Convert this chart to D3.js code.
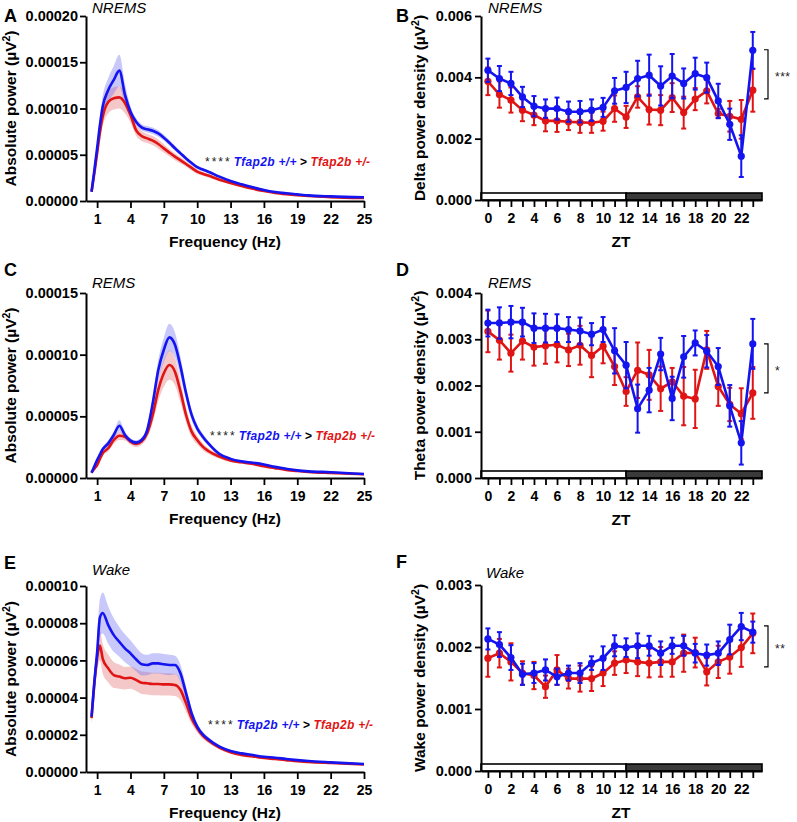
<!DOCTYPE html>
<html><head><meta charset="utf-8">
<script src="https://cdn.jsdelivr.net/npm/d3@7"></script>
<style>
body{margin:0;background:#fff}
text{font-family:"Liberation Sans",Arial,Helvetica,sans-serif}
</style>
</head><body>
<svg id="chart" width="797" height="822"></svg>
<script>
// ---------------- DATA ----------------
// Spectra: frequency (Hz) and absolute power in units of 1e-5 µV²
const freqHz = [0.5,0.75,1,1.25,1.5,2,2.5,3,3.5,4,4.5,5,5.5,6,6.5,7,7.5,8,8.5,9,9.5,10,10.5,11,12,13,14,15,16,17,18,19,20,22,25];

const nremsWT     = [1.0,3.3,5.7,8.2,10.2,12.0,13.1,14.1,11.5,9.65,8.57,7.96,7.75,7.6,7.3,6.85,6.3,5.7,5.15,4.6,4.1,3.65,3.4,3.17,2.63,2.16,1.8,1.48,1.19,0.97,0.83,0.72,0.61,0.5,0.4];
const nremsWTsem  = [0.1,0.3,0.6,0.9,1.1,1.3,1.5,1.7,1.2,0.6,0.4,0.35,0.35,0.35,0.35,0.3,0.3,0.28,0.25,0.22,0.2,0.18,0.16,0.15,0.13,0.11,0.1,0.08,0.07,0.06,0.05,0.05,0.04,0.04,0.03];
const nremsHet    = [1.0,3.0,5.15,7.4,9.1,10.7,11.1,11.2,10.6,9.3,7.67,7.03,6.77,6.52,6.16,5.69,5.23,4.79,4.4,4.0,3.58,3.17,2.95,2.75,2.3,1.95,1.62,1.32,1.08,0.88,0.74,0.63,0.54,0.42,0.32];
const nremsHetsem = [0.1,0.3,0.6,0.9,1.0,1.2,1.2,1.2,1.1,0.8,0.6,0.55,0.5,0.5,0.5,0.45,0.4,0.38,0.35,0.3,0.28,0.25,0.22,0.2,0.17,0.15,0.13,0.11,0.09,0.08,0.07,0.06,0.05,0.05,0.04];

const remsWT      = [0.43,0.95,1.46,1.9,2.33,2.81,3.49,4.24,3.49,3.03,2.87,3.08,3.89,6.06,8.76,10.4,11.4,10.8,9.03,6.87,5.11,4.03,3.35,2.81,1.95,1.55,1.35,1.24,1.1,0.9,0.75,0.62,0.54,0.47,0.32];
const remsWTsem   = [0.05,0.1,0.15,0.2,0.2,0.25,0.3,0.45,0.3,0.2,0.2,0.2,0.3,0.5,0.8,1.0,1.1,1.0,0.8,0.55,0.4,0.3,0.25,0.2,0.15,0.12,0.1,0.08,0.07,0.06,0.05,0.04,0.04,0.03,0.03];
const remsHet     = [0.43,0.75,1.05,1.55,2.0,2.41,3.08,3.43,3.35,2.95,2.76,2.95,3.62,5.11,7.14,8.49,9.16,8.62,7.0,5.11,3.76,3.08,2.54,2.19,1.73,1.41,1.27,1.14,0.95,0.8,0.66,0.57,0.5,0.41,0.3];
const remsHetsem  = [0.05,0.1,0.15,0.2,0.2,0.25,0.3,0.35,0.3,0.25,0.25,0.25,0.35,0.6,0.9,1.1,1.2,1.1,0.9,0.6,0.45,0.35,0.28,0.22,0.17,0.13,0.11,0.09,0.08,0.07,0.06,0.05,0.05,0.04,0.03];

const wakeWT      = [2.97,4.85,6.4,8.3,8.55,7.9,7.36,7.0,6.65,6.38,6.06,5.79,5.75,5.84,5.84,5.79,5.75,5.75,5.3,4.23,3.15,2.44,2.02,1.76,1.36,1.13,1.0,0.91,0.82,0.77,0.7,0.64,0.59,0.52,0.43];
const wakeWTsem   = [0.3,0.6,0.8,1.0,1.1,1.0,0.9,0.8,0.75,0.7,0.65,0.6,0.55,0.55,0.55,0.55,0.55,0.5,0.45,0.35,0.25,0.18,0.14,0.12,0.09,0.07,0.06,0.05,0.05,0.04,0.04,0.04,0.03,0.03,0.03];
const wakeHet     = [2.9,4.73,6.13,6.8,6.1,5.57,5.21,5.13,5.04,5.07,4.95,4.8,4.77,4.73,4.73,4.71,4.71,4.68,4.41,3.69,2.88,2.35,1.95,1.69,1.31,1.06,0.91,0.84,0.75,0.7,0.64,0.58,0.54,0.48,0.4];
const wakeHetsem  = [0.3,0.5,0.7,0.8,0.8,0.75,0.7,0.65,0.6,0.6,0.6,0.6,0.6,0.6,0.6,0.6,0.6,0.6,0.55,0.45,0.3,0.22,0.16,0.13,0.1,0.08,0.07,0.06,0.05,0.05,0.04,0.04,0.04,0.03,0.03];

// ZT time course: power density in units of 1e-3 µV²
const ztHours = [0,1,2,3,4,5,6,7,8,9,10,11,12,13,14,15,16,17,18,19,20,21,22,23];

const deltaWT     = [4.23,3.96,3.80,3.36,3.06,2.98,2.98,2.88,2.88,2.93,3.02,3.56,3.67,3.96,4.07,3.72,4.04,3.80,4.12,3.99,3.23,2.47,1.43,4.88];
const deltaWTsem  = [0.38,0.41,0.38,0.33,0.33,0.30,0.36,0.33,0.35,0.35,0.31,0.42,0.51,0.58,0.67,0.64,0.72,0.49,0.52,0.49,0.56,0.51,0.68,0.60];
const deltaHet    = [3.87,3.44,3.26,2.93,2.77,2.58,2.58,2.55,2.53,2.52,2.57,2.98,2.71,3.36,2.95,2.93,3.34,2.85,3.29,3.56,2.82,2.73,2.63,3.58];
const deltaHetsem = [0.45,0.43,0.41,0.36,0.33,0.34,0.36,0.27,0.34,0.33,0.31,0.43,0.36,0.35,0.49,0.49,0.47,0.52,0.36,0.41,0.15,0.50,0.63,0.70];

const thetaWT     = [3.35,3.35,3.37,3.37,3.24,3.24,3.24,3.21,3.18,3.11,3.21,2.75,2.44,1.50,1.90,2.68,1.72,2.62,2.92,2.74,2.41,1.56,0.76,2.90];
const thetaWTsem  = [0.29,0.34,0.35,0.31,0.32,0.31,0.30,0.27,0.29,0.24,0.27,0.49,0.50,0.52,0.48,0.35,0.47,0.45,0.27,0.35,0.40,0.45,0.47,0.54];
const thetaHet    = [3.17,2.98,2.70,2.96,2.83,2.86,2.88,2.77,2.87,2.65,2.85,2.41,1.87,2.33,2.23,1.93,2.08,1.77,1.71,2.77,1.98,1.59,1.39,1.84];
const thetaHetsem = [0.45,0.42,0.40,0.40,0.40,0.39,0.38,0.35,0.42,0.47,0.37,0.40,0.31,0.60,0.54,0.48,0.30,0.63,0.63,0.41,0.42,0.36,0.55,0.56];

const wakePdWT     = [2.13,2.04,1.83,1.56,1.58,1.63,1.52,1.58,1.58,1.74,1.82,2.02,1.99,2.02,2.02,1.90,2.02,2.02,1.90,1.87,1.90,2.12,2.33,2.24];
const wakePdWTsem  = [0.17,0.20,0.20,0.17,0.16,0.17,0.13,0.12,0.16,0.11,0.19,0.17,0.15,0.20,0.16,0.19,0.13,0.16,0.15,0.17,0.19,0.24,0.22,0.17];
const wakePdHet    = [1.82,1.90,1.76,1.58,1.54,1.36,1.63,1.49,1.49,1.49,1.58,1.74,1.79,1.76,1.74,1.76,1.76,1.90,1.91,1.60,1.76,1.84,1.99,2.22];
const wakePdHetsem = [0.30,0.23,0.30,0.19,0.22,0.18,0.24,0.16,0.21,0.20,0.21,0.19,0.21,0.23,0.23,0.24,0.24,0.30,0.24,0.22,0.26,0.27,0.31,0.32];

// Tick values
const specXTicks = [1,4,7,10,13,16,19,22,25];
const yTicksA = [0,0.00005,0.0001,0.00015,0.0002];
const yTicksC = [0,0.00005,0.0001,0.00015];
const yTicksE = [0,0.00002,0.00004,0.00006,0.00008,0.0001];
const yTicksB = [0,0.002,0.004,0.006];
const yTicksD = [0,0.001,0.002,0.003,0.004];
const yTicksF = [0,0.001,0.002,0.003];
// significance bracket ranges (µV²)
const bracketB = [0.0033,0.0049];
const bracketD = [0.00184,0.0029];
const bracketF = [0.00168,0.00234];

// ---------------- DRAWING ----------------
const BLUE = "#1414f0", RED = "#e01414";
const svg = d3.select("#chart");
svg.append("rect").attr("width",797).attr("height",822).attr("fill","#fff");

function styleAxis(g){
  g.select(".domain").attr("stroke","#000").attr("stroke-width",2);
  g.selectAll(".tick line").attr("stroke","#000").attr("stroke-width",1.8);
  g.selectAll(".tick text").attr("font-size",14.5).attr("font-weight","bold")
    .attr("font-family",'"Liberation Sans",Arial,sans-serif').attr("fill","#000");
}

function yTitle(x, yc, label){
  const t = svg.append("text").attr("transform",`translate(${x},${yc}) rotate(-90)`)
    .attr("text-anchor","middle").attr("font-size",15.5).attr("font-weight","bold");
  t.append("tspan").text(label + " (µV");
  t.append("tspan").attr("font-size",10.5).attr("dy",-6).text("2");
  t.append("tspan").attr("dy",6).text(")");
}

function spectrumPanel(cfg){
  const x = d3.scaleLinear().domain([0,25]).range([86,364]);
  const y = d3.scaleLinear().domain([0,cfg.max]).range([cfg.bottom,cfg.top]);
  const mk = (m,s)=>freqHz.map((f,i)=>({f, m:m[i]*1e-5, s:s[i]*1e-5}));
  const wt = mk(cfg.wt,cfg.wtSem), het = mk(cfg.het,cfg.hetSem);
  const area = d3.area().curve(d3.curveMonotoneX).x(d=>x(d.f)).y0(d=>y(d.m-d.s)).y1(d=>y(d.m+d.s));
  const line = d3.line().curve(d3.curveMonotoneX).x(d=>x(d.f)).y(d=>y(d.m));
  svg.append("path").datum(het).attr("d",area).attr("fill","rgba(225,110,110,0.38)");
  svg.append("path").datum(wt).attr("d",area).attr("fill","rgba(110,110,245,0.38)");
  svg.append("path").datum(het).attr("d",line).attr("fill","none").attr("stroke",RED).attr("stroke-width",2.6);
  svg.append("path").datum(wt).attr("d",line).attr("fill","none").attr("stroke",BLUE).attr("stroke-width",2.6);

  const gx = svg.append("g").attr("transform",`translate(0,${cfg.bottom})`)
    .call(d3.axisBottom(x).tickValues(specXTicks).tickSize(7).tickPadding(6).tickSizeOuter(0));
  styleAxis(gx); gx.selectAll(".tick text").attr("font-size",14);
  const gy = svg.append("g").attr("transform","translate(86,0)")
    .call(d3.axisLeft(y).tickValues(cfg.yTicks).tickFormat(d3.format(".5f")).tickSize(6).tickPadding(2).tickSizeOuter(0));
  styleAxis(gy);

  svg.append("text").attr("x",225).attr("y",cfg.bottom+46).attr("text-anchor","middle")
    .attr("font-size",15.5).attr("font-weight","bold").text("Frequency (Hz)");
  yTitle(16,(cfg.top+cfg.bottom)/2,"Absolute power");
  svg.append("text").attr("x",92).attr("y",cfg.stateY).attr("font-size",15).attr("font-style","italic").text(cfg.state);
  svg.append("text").attr("x",4).attr("y",cfg.letterY).attr("font-size",18).attr("font-weight","bold").text(cfg.letter);

  const a = svg.append("text").attr("x",cfg.annX).attr("y",cfg.annY).attr("font-size",12);
  a.append("tspan").attr("letter-spacing",2).attr("fill","#222").text("****");
  a.append("tspan").attr("dx",2).attr("font-weight","bold").attr("font-style","italic").attr("fill",BLUE).attr("letter-spacing",0.3).text("Tfap2b +/+");
  a.append("tspan").attr("font-weight","bold").attr("fill","#000").text(" > ");
  a.append("tspan").attr("font-weight","bold").attr("font-style","italic").attr("fill",RED).attr("letter-spacing",0.3).text("Tfap2b +/-");
}

function ztPanel(cfg){
  const x = d3.scaleLinear().domain([-0.6,23.8]).range([481,762]);
  const y = d3.scaleLinear().domain([0,cfg.max]).range([cfg.bottom,cfg.top]);
  const mk = (m,s)=>ztHours.map((h,i)=>({h, m:m[i]*1e-3, s:s[i]*1e-3}));
  const series = [{d:mk(cfg.het,cfg.hetSem),c:RED},{d:mk(cfg.wt,cfg.wtSem),c:BLUE}];

  // light/dark bar
  const by0 = y(0)-7, bh = 7;
  svg.append("rect").attr("x",x(-0.6)).attr("y",by0).attr("width",x(12)-x(-0.6)).attr("height",bh)
    .attr("fill","#fff").attr("stroke","#000").attr("stroke-width",1.6);
  svg.append("rect").attr("x",x(12)).attr("y",by0).attr("width",x(23.8)-x(12)).attr("height",bh)
    .attr("fill","#3a3a3a").attr("stroke","#000").attr("stroke-width",1.6);

  const line = d3.line().x(d=>x(d.h)).y(d=>y(d.m));
  series.forEach(s=>{
    const g = svg.append("g");
    g.selectAll("line.eb").data(s.d).join("line").attr("x1",d=>x(d.h)).attr("x2",d=>x(d.h))
      .attr("y1",d=>y(d.m-d.s)).attr("y2",d=>y(d.m+d.s)).attr("stroke",s.c).attr("stroke-width",2);
    ["-","+"].forEach(sign=>{
      g.selectAll(null).data(s.d).join("line").attr("x1",d=>x(d.h)-2.5).attr("x2",d=>x(d.h)+2.5)
        .attr("y1",d=>y(sign==="-"?d.m-d.s:d.m+d.s)).attr("y2",d=>y(sign==="-"?d.m-d.s:d.m+d.s))
        .attr("stroke",s.c).attr("stroke-width",2);
    });
    g.append("path").datum(s.d).attr("d",line).attr("fill","none").attr("stroke",s.c).attr("stroke-width",2.6);
    g.selectAll("circle").data(s.d).join("circle").attr("cx",d=>x(d.h)).attr("cy",d=>y(d.m)).attr("r",3.6).attr("fill",s.c);
  });

  const gx = svg.append("g").attr("transform",`translate(0,${cfg.bottom})`)
    .call(d3.axisBottom(x).tickValues(ztHours).tickFormat(d=>d%2===0?d:"").tickSize(7).tickPadding(6).tickSizeOuter(0));
  styleAxis(gx); gx.selectAll(".tick text").attr("font-size",14);
  const gy = svg.append("g").attr("transform","translate(481,0)")
    .call(d3.axisLeft(y).tickValues(cfg.yTicks).tickFormat(d3.format(".3f")).tickSize(6).tickPadding(3).tickSizeOuter(0));
  styleAxis(gy);

  svg.append("text").attr("x",621).attr("y",cfg.bottom+47).attr("text-anchor","middle")
    .attr("font-size",15.5).attr("font-weight","bold").text("ZT");
  yTitle(425,(cfg.top+cfg.bottom)/2,cfg.title);
  svg.append("text").attr("x",cfg.stateX).attr("y",cfg.stateY).attr("font-size",15).attr("font-style","italic").text(cfg.state);
  svg.append("text").attr("x",396).attr("y",cfg.letterY).attr("font-size",18).attr("font-weight","bold").text(cfg.letter);

  // significance bracket
  const y1 = y(cfg.bracket[1]), y2 = y(cfg.bracket[0]);
  svg.append("path").attr("d",`M764,${y1}H768V${y2}H764`).attr("fill","none").attr("stroke","#000").attr("stroke-width",1.2);
  svg.append("text").attr("x",775).attr("y",(y1+y2)/2+7).attr("font-size",12).attr("letter-spacing",0.5).attr("fill","#222").text(cfg.stars);
}

spectrumPanel({letter:"A",letterY:22,state:"NREMS",stateY:13,top:16,bottom:201,max:0.0002,yTicks:yTicksA,
  wt:nremsWT,wtSem:nremsWTsem,het:nremsHet,hetSem:nremsHetsem,annX:205,annY:166});
spectrumPanel({letter:"C",letterY:276,state:"REMS",stateY:288,top:293,bottom:478,max:0.00015,yTicks:yTicksC,
  wt:remsWT,wtSem:remsWTsem,het:remsHet,hetSem:remsHetsem,annX:210,annY:440});
spectrumPanel({letter:"E",letterY:569,state:"Wake",stateY:575,top:586,bottom:772,max:0.0001,yTicks:yTicksE,
  wt:wakeWT,wtSem:wakeWTsem,het:wakeHet,hetSem:wakeHetsem,annX:208,annY:729});

ztPanel({letter:"B",letterY:22,state:"NREMS",stateX:488,stateY:13,top:16,bottom:200,max:0.006,yTicks:yTicksB,
  title:"Delta power density",wt:deltaWT,wtSem:deltaWTsem,het:deltaHet,hetSem:deltaHetsem,bracket:bracketB,stars:"***"});
ztPanel({letter:"D",letterY:276,state:"REMS",stateX:488,stateY:288,top:293,bottom:478,max:0.004,yTicks:yTicksD,
  title:"Theta power density",wt:thetaWT,wtSem:thetaWTsem,het:thetaHet,hetSem:thetaHetsem,bracket:bracketD,stars:"*"});
ztPanel({letter:"F",letterY:568,state:"Wake",stateX:486,stateY:578,top:585,bottom:771,max:0.003,yTicks:yTicksF,
  title:"Wake power density",wt:wakePdWT,wtSem:wakePdWTsem,het:wakePdHet,hetSem:wakePdHetsem,bracket:bracketF,stars:"**"});
</script>
</body></html>
